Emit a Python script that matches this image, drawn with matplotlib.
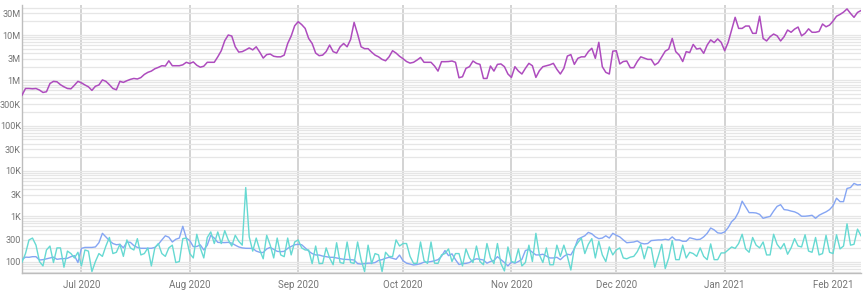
import pandas as pd
import matplotlib.pyplot as plt
import matplotlib.dates as mdates
from matplotlib.ticker import FixedLocator, LogLocator, NullFormatter

plt.rcParams['font.family'] = ['Roboto', 'DejaVu Sans']

# one value per day, 2020-06-14 .. 2021-02-09
dates = pd.date_range("2020-06-14", "2021-02-09", freq="D")

# purple series, in millions
purple_m = [
    0.47, 0.66, 0.66, 0.65, 0.66, 0.61, 0.54, 0.56, 0.85, 0.95,
    0.93, 0.80, 0.72, 0.66, 0.65, 0.78, 0.95, 0.88, 0.79, 0.72,
    0.60, 0.74, 0.79, 1.02, 0.95, 0.80, 0.66, 0.62, 0.95, 0.90,
    0.98, 1.05, 1.10, 1.07, 1.15, 1.35, 1.50, 1.60, 1.80, 1.93,
    2.10, 2.07, 2.70, 2.10, 2.10, 2.10, 2.20, 2.50, 2.35, 2.55,
    2.15, 1.95, 2.05, 2.50, 2.50, 2.50, 3.30, 4.50, 7.50, 10.0,
    9.5, 5.5, 4.2, 4.3, 4.7, 5.2, 4.7, 5.5, 4.2, 3.1,
    3.7, 3.8, 3.4, 3.3, 3.3, 3.6, 6.5, 9.5, 16.0, 19.7,
    17.0, 14.0, 8.4, 6.5, 4.0, 3.5, 3.6, 4.3, 6.0, 4.3,
    4.0, 5.5, 6.5, 5.5, 8.0, 19.0, 10.5, 5.5, 5.0, 5.0,
    4.2, 3.6, 3.3, 2.9, 2.7, 3.3, 4.5, 4.0, 3.4, 3.0,
    2.6, 2.4, 2.5, 2.8, 3.2, 2.5, 2.5, 2.5, 2.07, 1.6,
    2.58, 2.58, 2.6, 2.67, 2.5, 1.14, 1.2, 1.84, 2.0, 2.67,
    2.37, 2.25, 1.1, 1.1, 2.07, 1.6, 2.25, 2.3, 2.0, 1.38,
    1.16, 2.0, 1.6, 1.38, 1.84, 2.37, 2.1, 1.16, 1.63, 2.0,
    2.1, 2.2, 2.37, 1.75, 1.38, 1.84, 3.43, 3.7, 2.25, 3.06,
    3.3, 3.3, 4.3, 5.1, 3.06, 6.9, 2.0, 1.5, 1.38, 4.4,
    4.5, 2.3, 2.6, 2.67, 1.9, 1.9, 2.6, 3.3, 3.1, 2.9,
    2.9, 2.18, 2.45, 3.3, 4.4, 4.9, 8.4, 4.3, 3.6, 2.6,
    4.3, 4.1, 6.2, 4.9, 5.1, 3.95, 6.0, 7.8, 6.8, 8.2,
    6.9, 4.5, 6.9, 12.9, 24.6, 14.0, 14.0, 15.8, 15.8, 10.9,
    10.9, 26.0, 8.4, 7.4, 9.2, 10.5, 9.6, 7.4, 9.2, 12.9,
    11.5, 13.5, 15.0, 9.6, 10.9, 13.7, 11.5, 11.5, 12.0, 17.5,
    15.2, 16.6, 20.3, 26.0, 28.5, 32.0, 37.7, 30.0, 24.6, 31.5, 34.7,
]

blue = [
    111, 125, 124, 128, 128, 108, 110, 115, 120, 125,
    112, 115, 116, 118, 128, 135, 95, 195, 205, 205,
    205, 210, 260, 420, 350, 290, 250, 235, 240, 200,
    270, 265, 225, 205, 196, 196, 196, 196, 205, 240,
    300, 370, 345, 270, 310, 330, 600, 330, 290, 213,
    215, 233, 180, 230, 380, 330, 265, 262, 262, 265,
    255, 230, 210, 200, 196, 196, 195, 170, 160, 158,
    190, 205, 185, 168, 165, 168, 195, 215, 235, 240,
    235, 200, 170, 150, 140, 139, 132, 128, 124, 124,
    120, 116, 112, 111, 110, 108, 90, 88, 90, 92,
    92, 95, 106, 110, 118, 124, 118, 112, 139, 104,
    92, 88, 84, 86, 90, 97, 97, 100, 104, 110,
    130, 175, 135, 148, 110, 86, 90, 91, 95, 108,
    115, 112, 108, 92, 100, 106, 128, 110, 95, 80,
    97, 92, 100, 112, 175, 185, 160, 140, 140, 145,
    132, 120, 120, 124, 110, 130, 145, 140, 190, 310,
    340, 370, 440, 410, 350, 320, 330, 370, 330, 420,
    380, 350, 300, 260, 265, 270, 285, 255, 245, 250,
    290, 295, 300, 300, 310, 300, 350, 300, 300, 280,
    280, 335, 320, 305, 310, 350, 420, 550, 500, 430,
    420, 450, 560, 760, 900, 1250, 2150, 1600, 1200, 1200,
    1180, 1100, 900, 950, 990, 1300, 1650, 1800, 1400, 1370,
    1300, 1250, 1150, 1000, 1000, 1020, 1050, 900, 1050, 1150,
    1250, 1400, 1700, 2500, 2100, 2100, 4100, 4300, 5300, 4900, 5000,
]

cyan = [
    97, 150, 300, 330, 230, 100, 80, 180, 220, 95,
    200, 200, 75, 170, 150, 120, 160, 80, 180, 170,
    60, 100, 150, 130, 220, 340, 150, 160, 240, 130,
    300, 200, 180, 320, 140, 150, 200, 80, 200, 250,
    150, 130, 200, 230, 95, 100, 320, 330, 150, 120,
    400, 200, 120, 340, 450, 250, 450, 250, 480, 300,
    220, 380, 280, 230, 4300, 350, 170, 330, 180, 115,
    380, 230, 120, 330, 140, 128, 330, 140, 270, 300,
    200, 180, 180, 90, 220, 90, 91, 200, 120, 85,
    260, 95, 91, 270, 95, 91, 270, 110, 60, 230,
    90, 150, 140, 60, 160, 130, 128, 300, 220, 250,
    250, 130, 91, 91, 270, 105, 91, 270, 92, 91,
    140, 150, 190, 100, 150, 150, 80, 190, 120, 95,
    220, 100, 85, 250, 120, 90, 250, 90, 62, 210,
    100, 95, 190, 80, 95, 230, 100, 420, 140, 95,
    200, 85, 85, 230, 130, 230, 130, 65, 200, 260,
    330, 150, 240, 320, 120, 280, 140, 100, 210, 140,
    180, 200, 120, 115, 125, 130, 165, 240, 115, 210,
    200, 75, 130, 240, 70, 120, 290, 110, 110, 230,
    120, 160, 150, 130, 200, 130, 110, 245, 110, 110,
    155, 155, 180, 210, 195, 250, 400, 190, 160, 340,
    230, 200, 270, 140, 140, 400, 240, 190, 250, 145,
    200, 320, 220, 210, 390, 170, 160, 340, 140, 150,
    380, 160, 150, 390, 190, 220, 680, 230, 240, 520, 370,
]

ytick_vals = [100, 300, 1e3, 3e3, 1e4, 3e4, 1e5, 3e5, 1e6, 3e6, 1e7, 3e7]
ytick_labels = ["100", "300", "1K", "3K", "10K", "30K", "100K", "300K",
                "1M", "3M", "10M", "30M"]

fig = plt.figure(figsize=(8.68, 2.91), dpi=100)
ax = fig.add_axes([22 / 868, 1 - 273.3 / 291, 839 / 868, 268.3 / 291])

ax.plot(dates, [v * 1e6 for v in purple_m], color="#ae4cbe", lw=1.1, zorder=3)
ax.plot(dates, blue, color="#85a5f3", lw=1.0, zorder=3)
ax.plot(dates, cyan, color="#66d9d2", lw=1.0, zorder=3)

ax.set_yscale("log")
ax.set_ylim(55, 4.6e7)
ax.set_xlim(dates[0], dates[-1])

ax.yaxis.set_major_locator(FixedLocator(ytick_vals))
ax.set_yticklabels(ytick_labels)
ax.yaxis.set_minor_locator(LogLocator(base=10, subs=range(1, 10), numticks=20))
ax.yaxis.set_minor_formatter(NullFormatter())
ax.grid(True, which="both", axis="y", color="#e6e6e6", lw=0.9)

ax.xaxis.set_major_locator(mdates.MonthLocator())
ax.xaxis.set_major_formatter(mdates.DateFormatter("%b %Y"))
ax.grid(True, which="major", axis="x", color="#cccccc", lw=1.2)
ax.set_axisbelow(True)

ax.tick_params(axis="both", which="both", length=0, labelsize=7,
               labelcolor="#757575")
ax.tick_params(axis="y", labelsize=6.6, pad=0.8)
ax.tick_params(axis="x", pad=5)

for side in ["top", "right"]:
    ax.spines[side].set_visible(False)
for side in ["left", "bottom"]:
    ax.spines[side].set_color("#bdbdbd")
    ax.spines[side].set_linewidth(1.0)

fig.savefig("out.png", dpi=100)
